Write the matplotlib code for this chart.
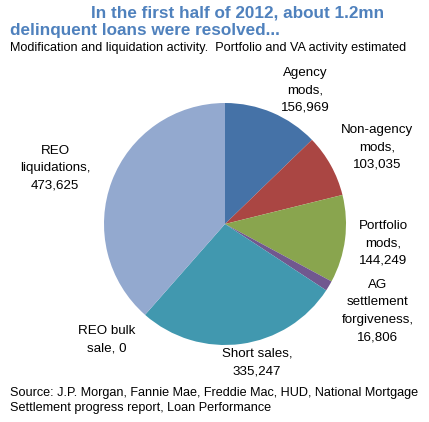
import matplotlib
matplotlib.use("Agg")
import matplotlib.pyplot as plt

# resolved loans, H1 2012
labels = ["Agency\nmods,", "Non-agency\nmods,", "Portfolio\nmods,",
          "AG\nsettlement\nforgiveness,", "Short sales,", "REO bulk\nsale,",
          "REO\nliquidations,"]
values = [156969, 103035, 144249, 16806, 335247, 0, 473625]
colors = ["#4572A7", "#AA4643", "#89A54E", "#71588F", "#4198AF", "#4F81BD", "#93A9CF"]
# label centre x, top y in pixels from top-left
label_pos = [(305, 67), (377, 124), (383, 220), (378, 279), (257, 348), (107, 325), (55, 145)]

W, H = 429, 422
fig = plt.figure(figsize=(W / 100, H / 100), dpi=100)
ax = fig.add_axes([0, 0, 1, 1])

ax.pie(values, colors=colors, startangle=90, counterclock=False,
       center=(225, H - 224), radius=121, frame=True,
       wedgeprops=dict(linewidth=0))
ax.set_xlim(0, W)
ax.set_ylim(0, H)
ax.axis("off")

lab_font = ["Liberation Sans", "DejaVu Sans"]
for lab, v, (x, y) in zip(labels, values, label_pos):
    txt = lab + (" " if lab.endswith("sale,") else "\n") + f"{v:,}"
    ax.text(x, H - y, txt, ha="center", va="top", fontsize=9.6,
            family=lab_font, linespacing=1.6, color="black")

title_c = "#4F81BD"
fig.text(91 / W, 1 - 5 / H, "In the first half of 2012, about 1.2mn", color=title_c,
         fontsize=12.3, fontweight="bold", family=lab_font, va="top", ha="left")
fig.text(10 / W, 1 - 23 / H, "delinquent loans were resolved...", color=title_c,
         fontsize=12.3, fontweight="bold", family=lab_font, va="top", ha="left")
narrow = ["Liberation Sans Narrow", "Liberation Sans", "DejaVu Sans"]
fig.text(10 / W, 1 - 42 / H, "Modification and liquidation activity.  Portfolio and VA activity estimated",
         fontsize=9.1, family=narrow, va="top", ha="left")
fig.text(10 / W, 1 - 387 / H, "Source: J.P. Morgan, Fannie Mae, Freddie Mac, HUD, National Mortgage\nSettlement progress report, Loan Performance",
         fontsize=9.1, family=narrow, va="top", ha="left", linespacing=1.3)

fig.savefig("out.png", dpi=100)
